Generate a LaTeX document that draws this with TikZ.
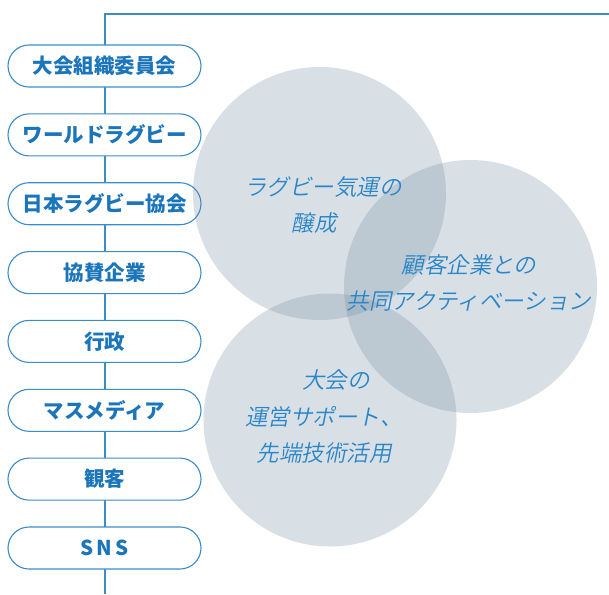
\documentclass[tikz,border=0pt]{standalone}
\usepackage{fontspec}
\newfontfamily\jp{Noto Sans CJK JP}
\newfontfamily\jpit{Noto Sans CJK JP DemiLight}[FakeSlant=0.2]
\definecolor{lineblue}{HTML}{3A8CCB}
\definecolor{textblue}{HTML}{1B75BB}
\definecolor{cirtext}{HTML}{2A86C8}
\definecolor{cirfill}{RGB}{97,126,147}
\tikzset{
  conn/.style={draw=lineblue, line width=1.1pt},
  pill/.style={draw=lineblue, line width=1.1pt, fill=white, rounded corners=21pt,
    minimum width=193pt, minimum height=42pt, inner sep=0pt,
    text=textblue, font=\jp\bfseries\fontsize{20.5}{22}\selectfont},
  circ/.style={circle, fill=cirfill, fill opacity=0.24, draw=none,
    minimum size=253pt, inner sep=0pt},
  ctext/.style={text=cirtext, align=center, inner sep=0pt,
    font=\jpit\fontsize{22.5}{36.5}\selectfont}
}
\begin{document}
\begin{tikzpicture}[x=1pt,y=-1pt]
\path[use as bounding box] (0,0) rectangle (609,594);
\coordinate (tr) at (609,14);
\coordinate (tl) at (105,14);
\coordinate (bot) at (105,594);
\draw[conn] (tr) -- (tl) -- (bot);
\node[pill] (p1) at (104.5,66) {大会組織委員会};
\node[pill] (p2) at (104.5,134.9) {ワールドラグビー};
\node[pill] (p3) at (104.5,203.7) {日本ラグビー協会};
\node[pill] (p4) at (104.5,272.6) {協賛企業};
\node[pill] (p5) at (104.5,341.4) {行政};
\node[pill] (p6) at (104.5,410.3) {マスメディア};
\node[pill] (p7) at (104.5,479.1) {観客};
\node[pill] (p8) at (104.5,548) {S\,N\,S};
\node[circ] (ca) at (319.5,193.5) {};
\node[circ] (cb) at (470.5,286.5) {};
\node[circ] (cc) at (330,420) {};
\node[ctext] (ta) at (323,205) {ラグビー気運の\\醸成\hspace*{18pt}};
\node[ctext] (tb) at (469,283) {顧客企業との\\共同アクティベーション};
\node[ctext] (tc) at (324,417) {\hspace*{24pt}大会の\\運営サポート、\\先端技術活用};
\end{tikzpicture}
\end{document}
